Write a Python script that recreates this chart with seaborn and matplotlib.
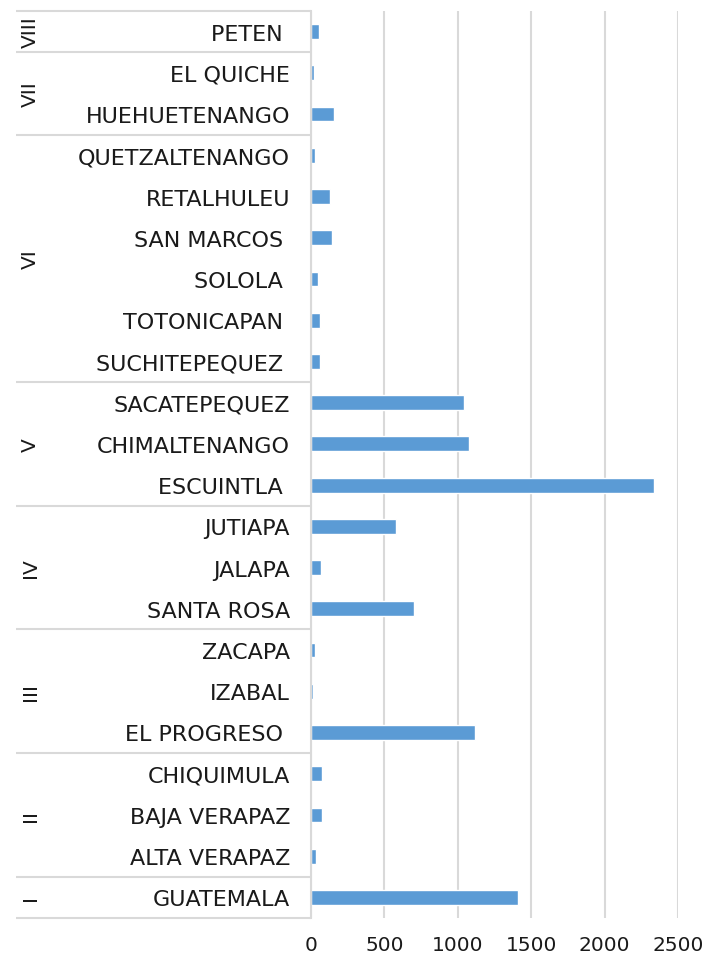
import numpy as np
import pandas as pd
import matplotlib
matplotlib.use("Agg")
import matplotlib.pyplot as plt
import matplotlib.transforms as mtransforms
import seaborn as sns

# ---- data (top to bottom as shown) ----
departments = ["PETEN ", "EL QUICHE", "HUEHUETENANGO", "QUETZALTENANGO", "RETALHULEU",
               "SAN MARCOS ", "SOLOLA ", "TOTONICAPAN ", "SUCHITEPEQUEZ ", "SACATEPEQUEZ",
               "CHIMALTENANGO", "ESCUINTLA ", "JUTIAPA", "JALAPA", "SANTA ROSA",
               "ZACAPA", "IZABAL", "EL PROGRESO ", "CHIQUIMULA", "BAJA VERAPAZ",
               "ALTA VERAPAZ", "GUATEMALA"]
values = [55, 20, 155, 25, 132, 143, 45, 64, 59, 1045,
          1075, 2336, 580, 70, 700, 27, 12, 1116, 75, 75,
          36, 1411]
region_names = ["VIII", "VII", "VI", "V", "IV", "III", "II", "I"]
region_sizes = [1, 2, 6, 3, 3, 3, 3, 1]
x_ticks = [0, 500, 1000, 1500, 2000, 2500]

df = pd.DataFrame({"dept": departments, "value": values})

sns.set_theme(style="white")
plt.rcParams["font.family"] = ["DejaVu Sans"]

fig = plt.figure(figsize=(7.07, 9.62), dpi=100)
W, H = 707, 962
left, right, top, bottom = 311, 678, 12, 919
ax = fig.add_axes([left / W, 1 - bottom / H, (right - left) / W, (bottom - top) / H])

sns.barplot(data=df, x="value", y="dept", order=departments, color="#5B9BD5",
            width=0.36, saturation=1, ax=ax, orient="h")

ax.set_xlim(0, 2500)
ax.set_ylim(len(departments) - 0.5, -0.5)
ax.set_xticks(x_ticks)
ax.set_xticklabels([str(t) for t in x_ticks])
ax.set_xlabel("")
ax.set_ylabel("")
ax.xaxis.grid(True, color="#D9D9D9", linewidth=1.5)
ax.yaxis.grid(False)
ax.set_axisbelow(True)
for s in ["top", "right", "bottom"]:
    ax.spines[s].set_visible(False)
ax.spines["left"].set_color("#D9D9D9")
ax.spines["left"].set_linewidth(1.5)
ax.tick_params(axis="y", length=0, pad=15, labelsize=16, labelcolor="#1a1a1a")
ax.tick_params(axis="x", length=0, pad=12, labelsize=14.5, labelcolor="#1a1a1a")

# multi-level category axis: separators and region labels
trans = mtransforms.blended_transform_factory(ax.transAxes, ax.transData)
x_sep = (16 - left) / (right - left)
x_lab = (30 - left) / (right - left)
start = 0
bounds = [-0.5]
for name, size in zip(region_names, region_sizes):
    center = start + (size - 1) / 2
    ax.text(x_lab, center, name, transform=trans, rotation=90, ha="center", va="center",
            fontsize=14.5, color="#1a1a1a")
    start += size
    bounds.append(start - 0.5)
for b in bounds:
    ax.plot([x_sep, 0], [b, b], transform=trans, color="#D9D9D9", linewidth=1.5,
            clip_on=False, solid_capstyle="butt")

fig.savefig("out.png", dpi=100)
